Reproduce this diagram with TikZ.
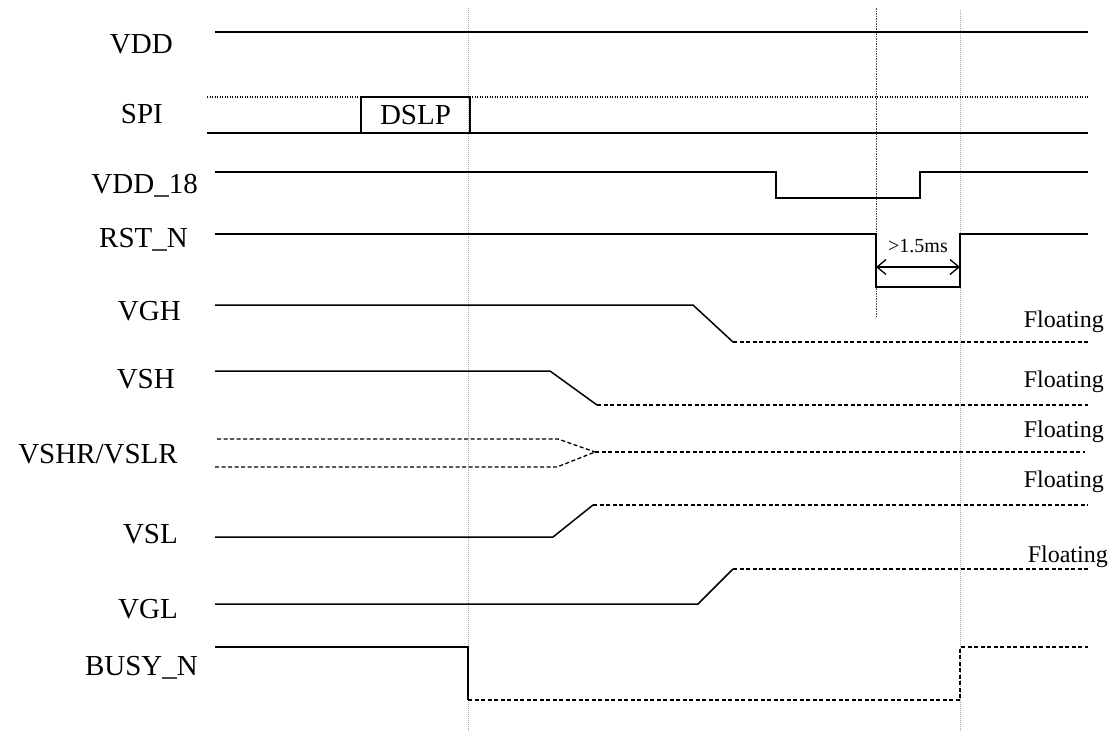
\documentclass[tikz,border=0pt]{standalone}
\usepackage{fontspec}
\setmainfont{Liberation Serif}
\usetikzlibrary{arrows.meta}
\begin{document}
\begin{tikzpicture}[x=1pt,y=-1pt,
  sig/.style={line width=1.5pt, line join=miter},
  flo/.style={line width=1.3pt, dash pattern=on 4pt off 2.5pt},
  dotsig/.style={line width=1.1pt, dash pattern=on 1pt off 1.5pt},
  guide/.style={line width=0.8pt, gray!70, dash pattern=on 1pt off 1pt},
  guidedark/.style={line width=0.8pt, black!75, dash pattern=on 1.5pt off 1pt},
  lab/.style={font=\fontsize{29}{29}\selectfont, anchor=base east, inner sep=0pt},
  flab/.style={font=\fontsize{24}{24}\selectfont, anchor=base east, inner sep=0pt},
]
\useasboundingbox (0,0) rectangle (1113,732);
% guides
\coordinate (g1t) at (468,8);   \coordinate (g1b) at (468,732);
\coordinate (g2t) at (876,8);   \coordinate (g2b) at (876,318);
\coordinate (g3t) at (960,10);  \coordinate (g3b) at (960,732);
\draw[guide] (g1t) -- (g1b);
\draw[guidedark] (g2t) -- (g2b);
\draw[guide] (g3t) -- (g3b);
% labels
\node[lab] (lvdd)  at (173,53)  {VDD};
\node[lab] (lspi)  at (163,123) {SPI};
\node[lab] (lv18)  at (198,193) {VDD\_18};
\node[lab] (lrst)  at (188,247) {RST\_N};
\node[lab] (lvgh)  at (181,320) {VGH};
\node[lab] (lvsh)  at (175,388) {VSH};
\node[lab] (lvshr) at (178,463) {VSHR/VSLR};
\node[lab] (lvsl)  at (178,543) {VSL};
\node[lab] (lvgl)  at (178,618) {VGL};
\node[lab] (lbusy) at (198,675) {BUSY\_N};
% VDD
\draw[sig] (215,32) -- (1088,32);
% SPI
\draw[dotsig] (207,97) -- (1088,97);
\draw[sig] (207,133) -- (1088,133);
\node[draw, line width=1.5pt, minimum width=109pt, minimum height=36pt, inner sep=0pt,
      font=\fontsize{29}{29}\selectfont] (dslp) at (415.5,115) {DSLP};
% VDD_18
\draw[sig] (215,172) -- (776,172) -- (776,198) -- (920,198) -- (920,172) -- (1088,172);
% RST_N
\draw[sig] (215,234) -- (876,234) -- (876,287) -- (960,287) -- (960,234) -- (1088,234);
\coordinate (al) at (876,267); \coordinate (ar) at (960,267);
\draw[line width=1.3pt, {Straight Barb[length=9pt,width=15pt]}-{Straight Barb[length=9pt,width=15pt]}] (al) -- (ar);
\node[font=\fontsize{20}{20}\selectfont, anchor=base, inner sep=0pt] (tpw) at (918,252) {>1.5ms};
% VGH
\draw[sig] (215,305) -- (693,305) -- (733,342);
\draw[flo] (733,342) -- (1088,342);
\node[flab] (f1) at (1104,327) {Floating};
% VSH
\draw[sig] (215,371) -- (550,371) -- (597,405);
\draw[flo] (597,405) -- (1088,405);
\node[flab] (f2) at (1104,387) {Floating};
% VSHR/VSLR
\draw[flo] (217,439) -- (558,439) -- (595,452);
\draw[flo] (215,467) -- (557,467) -- (595,452);
\draw[flo] (595,452) -- (1085,452);
\node[flab] (f3) at (1104,437) {Floating};
% VSL
\draw[sig] (215,537) -- (553,537) -- (593,505);
\draw[flo] (593,505) -- (1088,505);
\node[flab] (f4) at (1104,487) {Floating};
% VGL
\draw[sig] (215,604) -- (698,604) -- (733,569);
\draw[flo] (733,569) -- (1088,569);
\node[flab] (f5) at (1108,562) {Floating};
% BUSY_N
\draw[sig] (215,647) -- (468,647) -- (468,700);
\draw[flo] (468,700) -- (960,700) -- (960,647) -- (1088,647);
\end{tikzpicture}
\end{document}
